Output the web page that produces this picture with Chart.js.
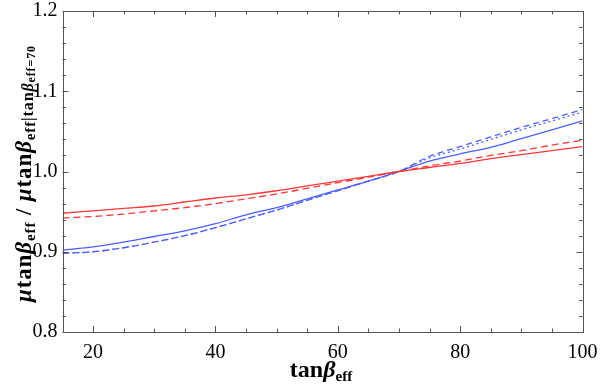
<!DOCTYPE html>
<html>
<head>
<meta charset="utf-8">
<script src="https://cdn.jsdelivr.net/npm/chart.js@4.4.1/dist/chart.umd.min.js"></script>
<style>
html,body{margin:0;padding:0;background:#fff;}
#wrap{width:600px;height:385px;position:relative;}
</style>
</head>
<body>
<div id="wrap"><canvas id="c" width="600" height="385"></canvas></div>
<script>
const tanBeta = [15,20,25,30,35,40,45,50,55,60,65,70,75,80,85,90,95,100];
const redSolid   = [0.948,0.951,0.954,0.957,0.962,0.967,0.971,0.976,0.982,0.988,0.994,1.000,1.005,1.010,1.016,1.021,1.026,1.031];
const redDashed  = [0.942,0.944,0.947,0.951,0.955,0.960,0.966,0.972,0.979,0.986,0.993,1.000,1.007,1.013,1.020,1.026,1.033,1.039];
const blueSolid  = [0.902,0.906,0.912,0.919,0.926,0.935,0.946,0.955,0.966,0.977,0.988,1.000,1.013,1.022,1.030,1.041,1.052,1.063];
const blueDashed = [0.898,0.900,0.905,0.912,0.920,0.930,0.941,0.952,0.964,0.976,0.988,1.000,1.019,1.031,1.043,1.055,1.066,1.077];
const blueDotted = [0.898,0.900,0.905,0.912,0.920,0.930,0.941,0.952,0.964,0.976,0.988,1.000,1.017,1.028,1.040,1.052,1.063,1.074];
const xTicks = [20,40,60,80,100];
const xMinorTicks = [20,25,30,35,40,45,50,55,60,65,70,75,80,85,90,95,100];
const yTicks = [0.8,0.9,1.0,1.1,1.2];
const yMinorTicks = [0.82,0.84,0.86,0.88,0.92,0.94,0.96,0.98,1.02,1.04,1.06,1.08,1.12,1.14,1.16,1.18];

const RED = 'rgb(255,55,55)';
const BLUE = 'rgb(75,95,255)';
const SERIF = '"Liberation Serif", "DejaVu Serif", serif';

function mk(data, color, dash){
  return {data: tanBeta.map((x,i)=>({x:x,y:data[i]})), borderColor: color, borderWidth: 1.3,
    borderDash: dash, pointRadius: 0, fill: false, tension: 0.3, cubicInterpolationMode:'monotone'};
}

function drawRich(ctx, segs, x, y, rot, targetLen){
  ctx.save();
  ctx.translate(x, y);
  ctx.rotate(rot);
  let total = 0, n = 0;
  segs.forEach(s=>{ ctx.font = s.f; total += ctx.measureText(s.t).width; n += s.t.length; });
  let sp = 0;
  if (targetLen && total < targetLen) sp = Math.min(1, (targetLen - total) / n);
  let cx = -(total + sp*n)/2;
  ctx.fillStyle = '#000';
  ctx.textBaseline = 'alphabetic';
  ctx.textAlign = 'left';
  segs.forEach(s=>{
    ctx.font = s.f;
    for (const ch of s.t) {
      ctx.fillText(ch, cx, s.dy||0);
      cx += ctx.measureText(ch).width + sp;
    }
  });
  ctx.restore();
}

const frame = {
  id:'frame',
  afterDraw(chart){
    const ctx = chart.ctx, a = chart.chartArea;
    const xs = chart.scales.x, ys = chart.scales.y;
    ctx.save();
    ctx.strokeStyle = '#555';
    ctx.lineWidth = 1;
    ctx.strokeRect(Math.round(a.left)+0.5, Math.round(a.top)+0.5, Math.round(a.right-a.left), Math.round(a.bottom-a.top));
    ctx.beginPath();
    const major = 6, minor = 3.5;
    xMinorTicks.forEach(v=>{
      const px = Math.round(xs.getPixelForValue(v))+0.5;
      const L = xTicks.includes(v) ? major : minor;
      ctx.moveTo(px, a.bottom); ctx.lineTo(px, a.bottom-L);
      ctx.moveTo(px, a.top); ctx.lineTo(px, a.top+L);
    });
    yTicks.concat(yMinorTicks).forEach(v=>{
      const py = Math.round(ys.getPixelForValue(v))+0.5;
      const L = yTicks.includes(v) ? major : minor;
      ctx.moveTo(a.left, py); ctx.lineTo(a.left+L, py);
      ctx.moveTo(a.right, py); ctx.lineTo(a.right-L, py);
    });
    ctx.stroke();
    ctx.restore();

    const B = 'bold 24px '+SERIF, BI = 'italic bold 24px '+SERIF, S = 'bold 15px '+SERIF;
    drawRich(ctx, [
      {t:'tan', f:B},{t:'β', f:BI},{t:'eff', f:S, dy:4}
    ], 321, 377, 0, 0);
    const yB = 'bold 23px '+SERIF, yBI = 'italic bold 23px '+SERIF, yS = 'bold 15px '+SERIF,
          ySI = 'italic bold 16px '+SERIF, ySS = 'bold 16px '+SERIF, yS2 = 'bold 12px '+SERIF;
    drawRich(ctx, [
      {t:'μ', f:yBI},{t:'tan', f:yB},{t:'β', f:yBI},{t:'eff', f:yS, dy:4},
      {t:' / ', f:yB},
      {t:'μ', f:yBI},{t:'tan', f:yB},{t:'β', f:yBI},{t:'eff', f:yS, dy:4},
      {t:'|', f:ySS, dy:2},{t:'tan', f:ySS, dy:2},{t:'β', f:ySI, dy:2},{t:'eff=70', f:yS2, dy:4}
    ], 31, 173.5, -Math.PI/2, 257);
  }
};

new Chart(document.getElementById('c'), {
  type:'line',
  data:{datasets:[
    mk(redSolid, RED, []),
    mk(redDashed, RED, [7,4]),
    mk(blueSolid, BLUE, []),
    mk(blueDashed, BLUE, [6,4]),
    mk(blueDotted, BLUE, [2,3])
  ]},
  options:{
    responsive:false, animation:false, devicePixelRatio:1,
    layout:{padding:{top:11, right:17.5, left:0, bottom:0}},
    plugins:{legend:{display:false}, tooltip:{enabled:false}},
    scales:{
      x:{type:'linear', min:15, max:100,
        afterBuildTicks:s=>{s.ticks = xTicks.map(v=>({value:v}));},
        afterFit:s=>{s.height = 53; s.paddingLeft = 0; s.paddingRight = 0;},
        grid:{display:false, drawTicks:false}, border:{display:false},
        ticks:{color:'#000', font:{family:SERIF, size:20}, padding:9, maxRotation:0, autoSkip:false,
          callback:v=>String(v)}},
      y:{type:'linear', min:0.8, max:1.2,
        afterBuildTicks:s=>{s.ticks = yTicks.map(v=>({value:v}));},
        afterFit:s=>{s.width = 62.5; s.paddingTop = 0; s.paddingBottom = 0;},
        grid:{display:false, drawTicks:false}, border:{display:false},
        ticks:{color:'#000', font:{family:SERIF, size:20}, padding:5, autoSkip:false,
          callback:v=>Number(v).toFixed(1)}}
    }
  },
  plugins:[frame]
});
</script>
</body>
</html>
